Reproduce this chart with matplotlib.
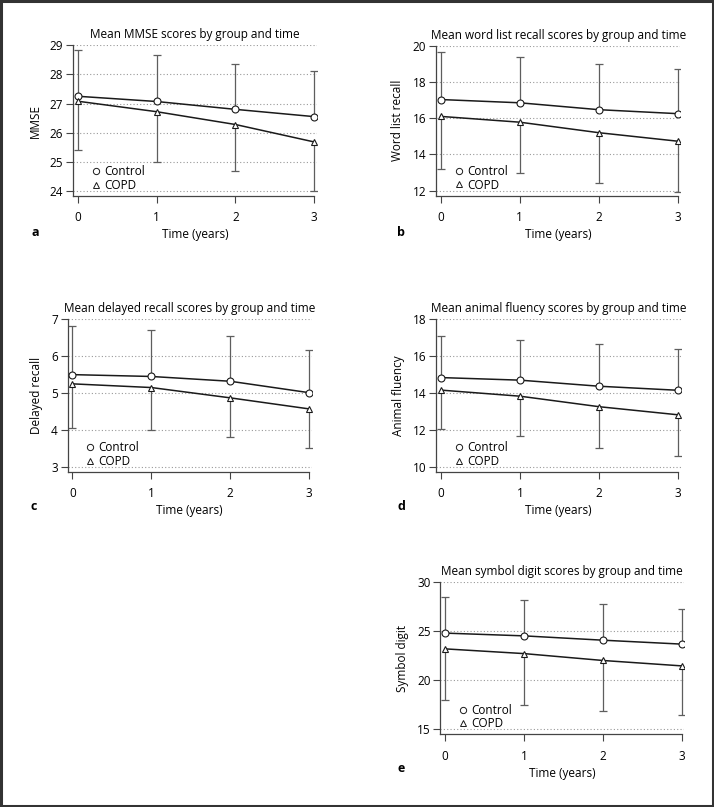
import matplotlib.pyplot as plt
import numpy as np

plt.rcParams['font.family'] = ['Open Sans', 'DejaVu Sans']

years = [0, 1, 2, 3]
groups = ['Control', 'COPD']

titles = [
    'Mean MMSE scores by group and time',
    'Mean word list recall scores by group and time',
    'Mean delayed recall scores by group and time',
    'Mean animal fluency scores by group and time',
    'Mean symbol digit scores by group and time',
]
ylabels = ['MMSE', 'Word list recall', 'Delayed recall', 'Animal fluency', 'Symbol digit']
letters = ['a', 'b', 'c', 'd', 'e']
yticks = [
    [24, 25, 26, 27, 28, 29],
    [12, 14, 16, 18, 20],
    [3, 4, 5, 6, 7],
    [10, 12, 14, 16, 18],
    [15, 20, 25, 30],
]

# means and error bar ends (control bars go up, COPD bars go down)
control_mean = [
    [27.25, 27.07, 26.80, 26.55],
    [17.03, 16.85, 16.47, 16.25],
    [5.50, 5.45, 5.32, 5.01],
    [14.84, 14.70, 14.37, 14.15],
    [24.78, 24.50, 24.06, 23.66],
]
control_upper = [
    [28.85, 28.65, 28.35, 28.12],
    [19.65, 19.40, 19.00, 18.70],
    [6.81, 6.71, 6.56, 6.18],
    [17.10, 16.90, 16.65, 16.40],
    [28.47, 28.10, 27.70, 27.25],
]
copd_mean = [
    [27.08, 26.72, 26.28, 25.68],
    [16.10, 15.78, 15.20, 14.73],
    [5.25, 5.15, 4.87, 4.57],
    [14.16, 13.83, 13.26, 12.82],
    [23.18, 22.70, 22.00, 21.45],
]
copd_lower = [
    [25.42, 25.00, 24.67, 23.98],
    [13.20, 12.95, 12.45, 11.92],
    [4.05, 4.01, 3.82, 3.51],
    [12.05, 11.67, 11.02, 10.61],
    [17.95, 17.44, 16.87, 16.46],
]

# pixel layout: x of tick 0, x of tick 3, top y, bottom spine y
boxes = [
    (77.7, 314.3, 45.3, 195.7),
    (440.7, 678.0, 45.7, 195.5),
    (72.3, 309.3, 319.3, 471.7),
    (441.0, 678.3, 319.3, 471.7),
    (445.0, 682.0, 581.7, 734.3),
]
letter_pos = [(32, 233), (397, 233), (30, 507), (397, 506), (398, 769)]

W, H = 714, 807
fig = plt.figure(figsize=(W / 100, H / 100), dpi=100)
fig.patch.set_facecolor('white')

x_lo, x_hi = -0.06, 3.03
line_col = '#1a1a1a'
err_col = '#5e5e5e'

for k in range(5):
    x0, x3, top, bot = boxes[k]
    u = (x3 - x0) / 3
    left = x0 + x_lo * u
    right = x0 + x_hi * u
    ax = fig.add_axes([left / W, 1 - bot / H, (right - left) / W, (bot - top) / H])
    ax.set_facecolor('none')

    lo, hi = yticks[k][0], yticks[k][-1]
    ax.set_xlim(x_lo, x_hi)
    ax.set_ylim(lo - 0.033 * (hi - lo), hi)
    ax.set_xticks(years)
    ax.set_yticks(yticks[k])
    ax.yaxis.grid(True, linestyle=(0, (1, 2)), color='#999999', linewidth=0.8)
    ax.set_axisbelow(True)

    for s in ['top', 'right']:
        ax.spines[s].set_visible(False)
    for s in ['left', 'bottom']:
        ax.spines[s].set_color('#444444')
        ax.spines[s].set_linewidth(0.9)
    ax.spines['bottom'].set_bounds(x_lo, 3)
    ax.tick_params(direction='out', length=5, width=0.8, color='#444444',
                   labelsize=8.5)
    ax.tick_params(axis='x', pad=6)
    ax.tick_params(axis='y', pad=2)

    cm = np.array(control_mean[k])
    cu = np.array(control_upper[k])
    pm = np.array(copd_mean[k])
    pl = np.array(copd_lower[k])

    ax.vlines(years, cm, cu, color=err_col, linewidth=0.9, zorder=2)
    ax.plot(years, cu, linestyle='none', marker='_', markersize=6,
            markeredgewidth=0.9, color=err_col, zorder=2)
    ax.vlines(years, pl, pm, color=err_col, linewidth=0.9, zorder=2)
    ax.plot(years, pl, linestyle='none', marker='_', markersize=6,
            markeredgewidth=0.9, color=err_col, zorder=2)

    ax.plot(years, cm, color=line_col, linewidth=1.1, marker='o', markersize=5,
            markerfacecolor='white', markeredgecolor=line_col, markeredgewidth=0.8,
            label=groups[0], zorder=3)
    ax.plot(years, pm, color=line_col, linewidth=1.1, marker='^', markersize=5,
            markerfacecolor='white', markeredgecolor=line_col, markeredgewidth=0.8,
            label=groups[1], zorder=3)

    handles = [
        plt.Line2D([], [], linestyle='none', marker='o', markersize=4.5,
                   markerfacecolor='white', markeredgecolor=line_col, markeredgewidth=0.7),
        plt.Line2D([], [], linestyle='none', marker='^', markersize=4.5,
                   markerfacecolor='white', markeredgecolor=line_col, markeredgewidth=0.7),
    ]
    ax.legend(handles, groups, loc='lower left', bbox_to_anchor=(0.06, -0.005),
              frameon=False, fontsize=8.5, handlelength=0.6, handletextpad=0.4,
              labelspacing=0.05, borderpad=0.2, borderaxespad=0.2)

    ax.set_title(titles[k], fontsize=8.5, pad=5)
    ax.set_ylabel(ylabels[k], fontsize=8.5, labelpad=6)
    ax.set_xlabel('Time (years)', fontsize=8.5, labelpad=3)

    lx, ly = letter_pos[k]
    fig.text(lx / W, 1 - ly / H, letters[k], fontsize=9, fontweight='bold',
             ha='left', va='center')

# outer frame
fig.add_artist(plt.Rectangle((0.001, 0.001), 0.998, 0.998, transform=fig.transFigure,
                             fill=False, edgecolor='#333333', linewidth=2.2))

fig.savefig('out.png', dpi=100)
